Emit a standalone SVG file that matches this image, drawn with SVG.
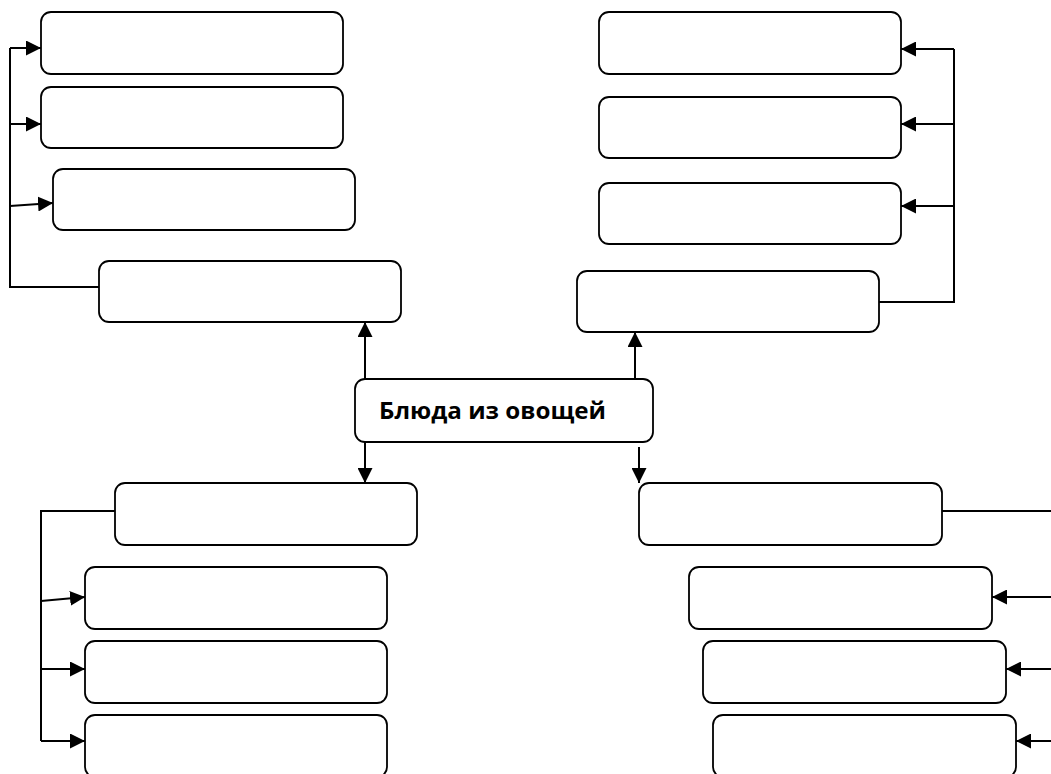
<svg xmlns="http://www.w3.org/2000/svg" width="1051" height="774" viewBox="0 0 1051 774">
<style>
.box{fill:#fff;stroke:#000;stroke-width:1.8}
.ln{fill:none;stroke:#000;stroke-width:2}
.ar{fill:none;stroke:#000;stroke-width:2;marker-end:url(#ah)}
.t{font-family:"Open Sans","Liberation Sans",sans-serif;font-weight:bold;font-size:24px;fill:#000}
</style>
<defs>
<marker id="ah" markerUnits="userSpaceOnUse" markerWidth="15" markerHeight="15" refX="15" refY="7.5" orient="auto">
<path d="M0,0 L15,7.5 L0,15 z" fill="#000"/>
</marker>
</defs>
<rect width="1051" height="774" fill="#fff"/>
<g id="connectors">
<polyline class="ln" points="99,287 10,287 10,48"/>
<line class="ar" x1="10" y1="48" x2="41" y2="48"/>
<line class="ar" x1="10" y1="124" x2="41" y2="124"/>
<line class="ar" x1="10" y1="206" x2="53" y2="203"/>
<polyline class="ln" points="879,302 954,302 954,49"/>
<line class="ar" x1="954" y1="49" x2="901" y2="49"/>
<line class="ar" x1="954" y1="124" x2="901" y2="124"/>
<line class="ar" x1="954" y1="206" x2="901" y2="206"/>
<line class="ar" x1="365" y1="379" x2="365" y2="322"/>
<line class="ar" x1="635" y1="379" x2="635" y2="332"/>
<line class="ar" x1="365" y1="442" x2="365" y2="483"/>
<line class="ar" x1="639" y1="447" x2="639" y2="483"/>
<polyline class="ln" points="115,511 41,511 41,741"/>
<line class="ar" x1="41" y1="601" x2="85" y2="597"/>
<line class="ar" x1="41" y1="669" x2="85" y2="669"/>
<line class="ar" x1="41" y1="741" x2="85" y2="741"/>
<line class="ln" x1="942" y1="511" x2="1051" y2="511"/>
<line class="ar" x1="1051" y1="597" x2="992" y2="597"/>
<line class="ar" x1="1051" y1="669" x2="1006" y2="669"/>
<line class="ar" x1="1051" y1="741" x2="1016" y2="741"/>
</g>
<g id="center"><rect class="box" x="355" y="379" width="298" height="63" rx="10"/><text class="t" x="379" y="419" textLength="227" lengthAdjust="spacingAndGlyphs">Блюда из овощей</text></g>
<g id="tl1"><rect class="box" x="41" y="12" width="302" height="62" rx="10"/></g>
<g id="tl2"><rect class="box" x="41" y="87" width="302" height="61" rx="10"/></g>
<g id="tl3"><rect class="box" x="53" y="169" width="302" height="61" rx="10"/></g>
<g id="tl4"><rect class="box" x="99" y="261" width="302" height="61" rx="10"/></g>
<g id="tr1"><rect class="box" x="599" y="12" width="302" height="62" rx="10"/></g>
<g id="tr2"><rect class="box" x="599" y="97" width="302" height="61" rx="10"/></g>
<g id="tr3"><rect class="box" x="599" y="183" width="302" height="61" rx="10"/></g>
<g id="tr4"><rect class="box" x="577" y="271" width="302" height="61" rx="10"/></g>
<g id="bl1"><rect class="box" x="115" y="483" width="302" height="62" rx="10"/></g>
<g id="bl2"><rect class="box" x="85" y="567" width="302" height="62" rx="10"/></g>
<g id="bl3"><rect class="box" x="85" y="641" width="302" height="62" rx="10"/></g>
<g id="bl4"><rect class="box" x="85" y="715" width="302" height="62" rx="10"/></g>
<g id="br1"><rect class="box" x="639" y="483" width="303" height="62" rx="10"/></g>
<g id="br2"><rect class="box" x="689" y="567" width="303" height="62" rx="10"/></g>
<g id="br3"><rect class="box" x="703" y="641" width="303" height="62" rx="10"/></g>
<g id="br4"><rect class="box" x="713" y="715" width="303" height="62" rx="10"/></g>
</svg>
